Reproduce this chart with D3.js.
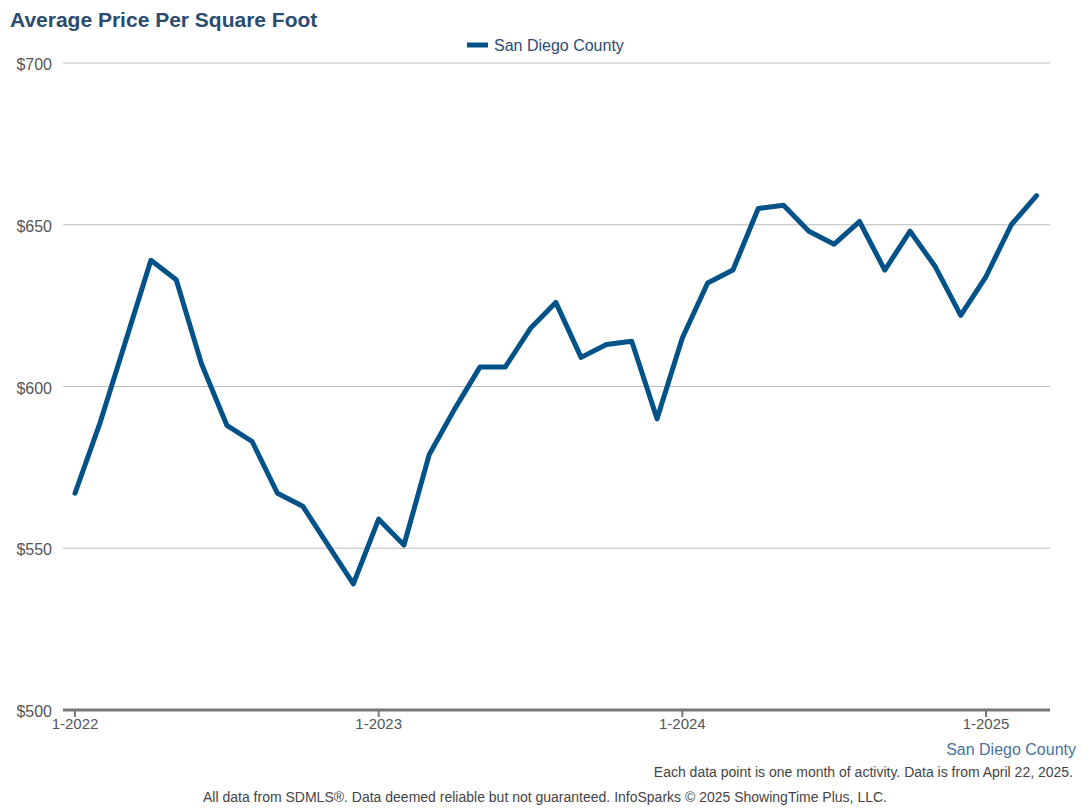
<!DOCTYPE html>
<html>
<head>
<meta charset="utf-8">
<script src="https://cdn.jsdelivr.net/npm/d3@7"></script>
<style>
  body { margin: 0; background: #fff; }
  svg { font-family: "Liberation Sans", Arial, sans-serif; }
</style>
</head>
<body>
<div class="chart"></div>
<script>
// datos del grafico
var meses = ["1-2022","2-2022","3-2022","4-2022","5-2022","6-2022","7-2022","8-2022","9-2022","10-2022","11-2022","12-2022",
             "1-2023","2-2023","3-2023","4-2023","5-2023","6-2023","7-2023","8-2023","9-2023","10-2023","11-2023","12-2023",
             "1-2024","2-2024","3-2024","4-2024","5-2024","6-2024","7-2024","8-2024","9-2024","10-2024","11-2024","12-2024",
             "1-2025","2-2025","3-2025"];
var precios = [567, 589, 614, 639, 633, 607, 588, 583, 567, 563, 551, 539,
               559, 551, 579, 593, 606, 606, 618, 626, 609, 613, 614, 590,
               615, 632, 636, 655, 656, 648, 644, 651, 636, 648, 637, 622,
               634, 650, 659];
var ticksY = [500, 550, 600, 650, 700];
var ticksX = ["1-2022", "1-2023", "1-2024", "1-2025"];
var serie = "San Diego County";

var ancho = 1090, alto = 812;
var margen = { izq: 63, der: 1050, arriba: 63, abajo: 710 };
var color = "#005288";

var svg = d3.select(".chart").append("svg")
    .attr("width", ancho)
    .attr("height", alto);

var x = d3.scaleLinear().domain([0, 36]).range([75, 986]);
var y = d3.scaleLinear().domain([500, 700]).range([margen.abajo, margen.arriba]);

// titulo
svg.append("text")
    .attr("x", 10).attr("y", 27)
    .attr("font-size", 21).attr("font-weight", "bold")
    .attr("fill", "#2b4b70")
    .text("Average Price Per Square Foot");

// leyenda
svg.append("line")
    .attr("x1", 467).attr("x2", 488).attr("y1", 45).attr("y2", 45)
    .attr("stroke", color).attr("stroke-width", 5);
svg.append("text")
    .attr("x", 494).attr("y", 51)
    .attr("font-size", 16).attr("fill", "#2b4b70")
    .text(serie);

// lineas de la grilla
svg.selectAll(".grid")
    .data(ticksY.filter(function(d) { return d > 500; }))
    .enter().append("line")
    .attr("class", "grid")
    .attr("x1", margen.izq).attr("x2", margen.der)
    .attr("y1", function(d) { return y(d); })
    .attr("y2", function(d) { return y(d); })
    .attr("stroke", "#bdbdbd").attr("stroke-width", 1.2);

// etiquetas eje y
svg.selectAll(".ylab")
    .data(ticksY)
    .enter().append("text")
    .attr("class", "ylab")
    .attr("x", 52)
    .attr("y", function(d) { return y(d) + 7; })
    .attr("text-anchor", "end")
    .attr("font-size", 16).attr("fill", "#555")
    .text(function(d) { return "$" + d; });

// eje x
svg.append("line")
    .attr("x1", margen.izq).attr("x2", margen.der)
    .attr("y1", margen.abajo).attr("y2", margen.abajo)
    .attr("stroke", "#777").attr("stroke-width", 3);

svg.selectAll(".xtick")
    .data(ticksX)
    .enter().append("line")
    .attr("class", "xtick")
    .attr("x1", function(d) { return x(meses.indexOf(d)); })
    .attr("x2", function(d) { return x(meses.indexOf(d)); })
    .attr("y1", margen.abajo).attr("y2", margen.abajo + 7)
    .attr("stroke", "#777").attr("stroke-width", 2);

svg.selectAll(".xlab")
    .data(ticksX)
    .enter().append("text")
    .attr("class", "xlab")
    .attr("x", function(d) { return x(meses.indexOf(d)); })
    .attr("y", 729)
    .attr("text-anchor", "middle")
    .attr("font-size", 15).attr("fill", "#555")
    .text(function(d) { return d; });

// linea de datos
var linea = d3.line()
    .x(function(d, i) { return x(i); })
    .y(function(d) { return y(d); });

svg.append("path")
    .datum(precios)
    .attr("d", linea)
    .attr("fill", "none")
    .attr("stroke", color)
    .attr("stroke-width", 5)
    .attr("stroke-linejoin", "round")
    .attr("stroke-linecap", "round");

// textos de pie
svg.append("text")
    .attr("x", 1076).attr("y", 755)
    .attr("text-anchor", "end")
    .attr("font-size", 16).attr("fill", "#4a72a0")
    .text(serie);

svg.append("text")
    .attr("x", 1073).attr("y", 777)
    .attr("text-anchor", "end")
    .attr("font-size", 14).attr("fill", "#444")
    .text("Each data point is one month of activity. Data is from April 22, 2025.");

svg.append("text")
    .attr("x", 545).attr("y", 802)
    .attr("text-anchor", "middle")
    .attr("font-size", 14).attr("fill", "#444")
    .text("All data from SDMLS®. Data deemed reliable but not guaranteed. InfoSparks © 2025 ShowingTime Plus, LLC.");
</script>
</body>
</html>
